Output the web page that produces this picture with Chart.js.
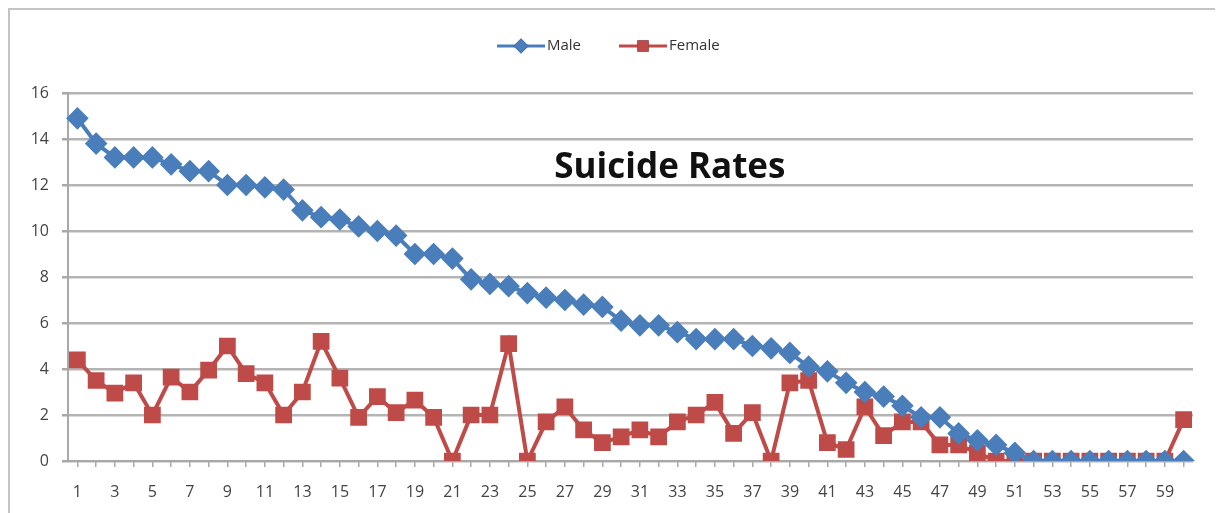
<!DOCTYPE html>
<html>
<head>
<meta charset="utf-8">
<script src="https://cdn.jsdelivr.net/npm/chart.js@4"></script>
<style>
  html, body { margin: 0; padding: 0; background: #fff; }
  #wrap { width: 1219px; height: 513px; position: relative; }
</style>
</head>
<body>
<div id="wrap"><canvas id="myChart" width="1219" height="513"></canvas></div>
<script>
// chart data
var chartTitle = 'Suicide Rates';
var seriesNames = ['Male', 'Female'];
var categories = [];
for (var i = 1; i <= 60; i++) categories.push(String(i));

var maleValues = [
    14.9, 13.8, 13.2, 13.2, 13.2, 12.9, 12.6, 12.6, 12.0, 12.0,
    11.9, 11.8, 10.9, 10.6, 10.5, 10.2, 10.0, 9.8, 9.0, 9.0,
    8.8, 7.9, 7.7, 7.6, 7.3, 7.1, 7.0, 6.8, 6.7, 6.1,
    5.9, 5.9, 5.6, 5.3, 5.3, 5.3, 5.0, 4.9, 4.7, 4.1,
    3.9, 3.4, 3.0, 2.8, 2.4, 1.9, 1.9, 1.2, 0.9, 0.7,
    0.35, 0, 0, 0, 0, 0, 0, 0, 0, 0
];
var femaleValues = [
    4.4, 3.5, 2.95, 3.4, 2.0, 3.65, 3.0, 3.95, 5.0, 3.8,
    3.4, 2.0, 3.0, 5.2, 3.6, 1.9, 2.8, 2.1, 2.65, 1.9,
    0, 2.0, 2.0, 5.1, 0, 1.7, 2.35, 1.35, 0.8, 1.05,
    1.35, 1.05, 1.7, 2.0, 2.55, 1.2, 2.1, 0, 3.4, 3.5,
    0.8, 0.5, 2.35, 1.1, 1.7, 1.7, 0.7, 0.7, 0.35, 0,
    0, 0, 0, 0, 0, 0, 0, 0, 0, 1.8
];
var yTicks = [0, 2, 4, 6, 8, 10, 12, 14, 16];

var blue = '#4a7ebb';
var red = '#be4b48';
var fontFamily = '"Open Sans", sans-serif';

/**
 * Frame, legend (line + marker) and the title inside the plot
 */
var decorPlugin = {
    id: 'decor',
    beforeDraw: function(chart) {
        var ctx = chart.ctx;
        ctx.save();
        ctx.fillStyle = '#fff';
        ctx.fillRect(0, 0, chart.width, chart.height);
        ctx.strokeStyle = '#c4c4c4';
        ctx.lineWidth = 2;
        ctx.beginPath();
        ctx.moveTo(9, chart.height);
        ctx.lineTo(9, 9);
        ctx.lineTo(chart.width - 4, 9);
        ctx.stroke();
        ctx.restore();
    },
    afterDatasetsDraw: function(chart) {
        var ctx = chart.ctx;
        var xs = chart.scales.x, ys = chart.scales.y;
        ctx.save();
        ctx.font = 'bold 35px ' + fontFamily;
        ctx.fillStyle = '#111';
        ctx.textAlign = 'center';
        ctx.textBaseline = 'middle';
        ctx.fillText(chartTitle, xs.getPixelForValue(31.6), ys.getPixelForValue(12.75));

        // legend
        var ly = 46;
        var items = [
            { x: 497, ds: chart.data.datasets[0] },
            { x: 619, ds: chart.data.datasets[1] }
        ];
        ctx.font = '15px ' + fontFamily;
        ctx.textAlign = 'left';
        items.forEach(function(it) {
            ctx.strokeStyle = it.ds.borderColor;
            ctx.lineWidth = 3;
            ctx.beginPath();
            ctx.moveTo(it.x, ly);
            ctx.lineTo(it.x + 48, ly);
            ctx.stroke();
            Chart.helpers.drawPoint(ctx, {
                pointStyle: it.ds.pointStyle,
                radius: it.ds.pointRadius - 1,
                borderWidth: 0
            }, it.x + 24, ly);
            ctx.fillStyle = it.ds.backgroundColor;
            ctx.fill();
            ctx.fillStyle = '#333';
            ctx.fillText(it.ds.label, it.x + 50, ly);
        });
        ctx.restore();
    }
};

var ctx = document.getElementById('myChart').getContext('2d');
var chart = new Chart(ctx, {
    type: 'line',
    data: {
        labels: categories,
        datasets: [{
            label: seriesNames[0],
            data: maleValues,
            borderColor: blue,
            backgroundColor: blue,
            borderWidth: 4,
            pointStyle: 'rectRot',
            pointRadius: 8.5,
            pointHoverRadius: 8.5,
            tension: 0
        }, {
            label: seriesNames[1],
            data: femaleValues,
            borderColor: red,
            backgroundColor: red,
            borderWidth: 4,
            pointStyle: 'rect',
            pointRadius: 9,
            pointHoverRadius: 9,
            tension: 0
        }]
    },
    options: {
        responsive: false,
        animation: false,
        layout: { padding: { left: 10, right: 26, top: 93, bottom: 0 } },
        plugins: {
            legend: { display: false },
            tooltip: { enabled: false }
        },
        scales: {
            x: {
                offset: true,
                afterFit: function(scale) { scale.height = 52; },
                grid: {
                    drawOnChartArea: false,
                    drawTicks: true,
                    tickLength: 6,
                    color: '#a8a8a8',
                    lineWidth: 1.5
                },
                border: { color: '#a8a8a8', width: 2 },
                ticks: {
                    autoSkip: false,
                    maxRotation: 0,
                    color: '#444',
                    padding: 16,
                    font: { family: fontFamily, size: 16 },
                    callback: function(val, idx) {
                        return idx % 2 === 0 ? categories[idx] : '';
                    }
                }
            },
            y: {
                min: yTicks[0],
                max: yTicks[yTicks.length - 1],
                afterBuildTicks: function(scale) {
                    scale.ticks = yTicks.map(function(v) { return { value: v }; });
                },
                afterFit: function(scale) { scale.width = 58; },
                grid: {
                    color: '#b4b4b4',
                    lineWidth: 2.5,
                    tickLength: 6,
                    tickColor: '#a8a8a8'
                },
                border: { color: '#a8a8a8', width: 2 },
                ticks: {
                    color: '#444',
                    padding: 13,
                    font: { family: fontFamily, size: 16 }
                }
            }
        }
    },
    plugins: [decorPlugin]
});
</script>
</body>
</html>
